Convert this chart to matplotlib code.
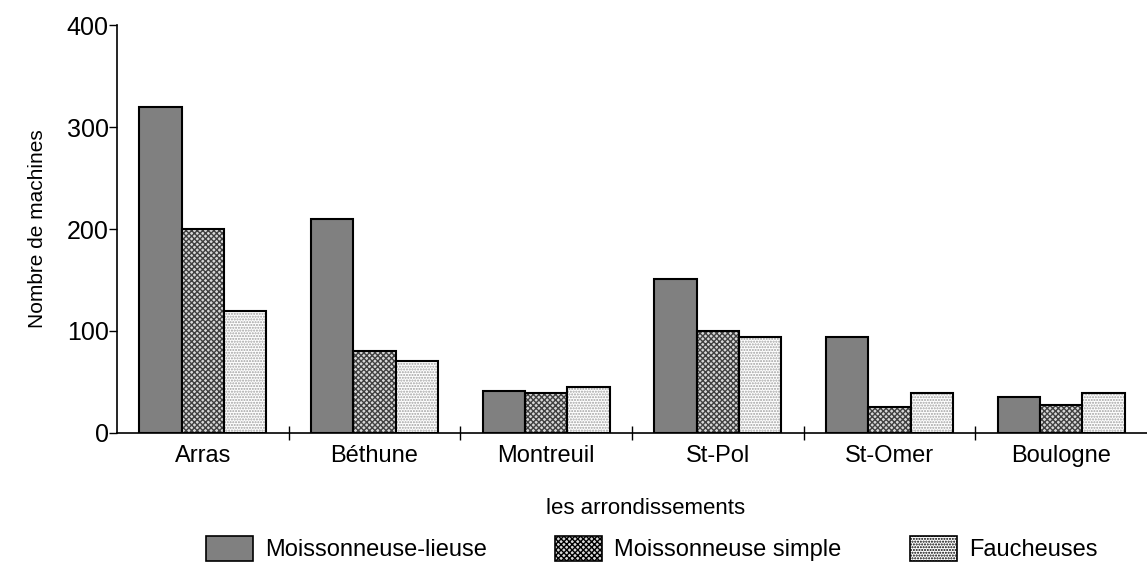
import numpy as np
import matplotlib.pyplot as plt
from matplotlib.patches import Patch

plt.rcParams['font.family'] = ['Liberation Sans', 'DejaVu Sans']

categories = ['Arras', 'Béthune', 'Montreuil', 'St-Pol', 'St-Omer', 'Boulogne']
lieuse = [320, 210, 41, 151, 94, 35]
simple = [200, 80, 39, 100, 25, 27]
faucheuses = [120, 70, 45, 94, 39, 39]
series_names = ['Moissonneuse-lieuse', 'Moissonneuse simple', 'Faucheuses']

styles = [
    dict(facecolor='#808080', hatch=None, hcol='#808080'),
    dict(facecolor='#d8d8d8', hatch='xxxxxx', hcol='#404040'),
    dict(facecolor='white', hatch='......', hcol='#a0a0a0'),
]

fig = plt.figure(figsize=(11.47, 5.74), dpi=100)
ax = fig.add_axes([0.102, 0.246, 0.898, 0.71])

x = np.arange(len(categories))
w = 0.247
for i, (vals, st) in enumerate(zip([lieuse, simple, faucheuses], styles)):
    pos = x + (i - 1) * w
    ax.bar(pos, vals, w, color=st['facecolor'], hatch=st['hatch'],
           edgecolor=st['hcol'], linewidth=0)
    ax.bar(pos, vals, w, fill=False, edgecolor='black', linewidth=1.5)

ax.set_xlim(-0.5, len(categories) - 0.5)
ax.set_ylim(0, 400)
ax.set_yticks([0, 100, 200, 300, 400])
ax.set_xticks(x)
ax.set_xticklabels(categories, fontsize=17)
ax.set_xticks(np.arange(len(categories) - 1) + 0.5, minor=True)
ax.tick_params(axis='x', which='major', length=0, pad=9)
ax.tick_params(axis='x', which='minor', length=10, direction='inout', width=1)
ax.tick_params(axis='y', length=6, width=1, direction='out', labelsize=18, pad=0)
for s in ['top', 'right']:
    ax.spines[s].set_visible(False)
ax.spines['left'].set_linewidth(1.2)
ax.spines['bottom'].set_linewidth(1.2)

ax.set_ylabel('Nombre de machines', fontsize=15, labelpad=14)
ax.set_xlabel('les arrondissements', fontsize=16)
ax.xaxis.set_label_coords(0.513, -0.16)

handles = [Patch(facecolor=st['facecolor'], hatch=st['hatch'], edgecolor='black', linewidth=1.2)
           for st in styles]
fig.legend(handles, series_names, loc='lower center', bbox_to_anchor=(0.568, -0.015),
           ncol=3, frameon=False, fontsize=17, handlelength=2.0, handleheight=1.3,
           columnspacing=2.9, handletextpad=0.5)

fig.savefig('out.png', dpi=100)
